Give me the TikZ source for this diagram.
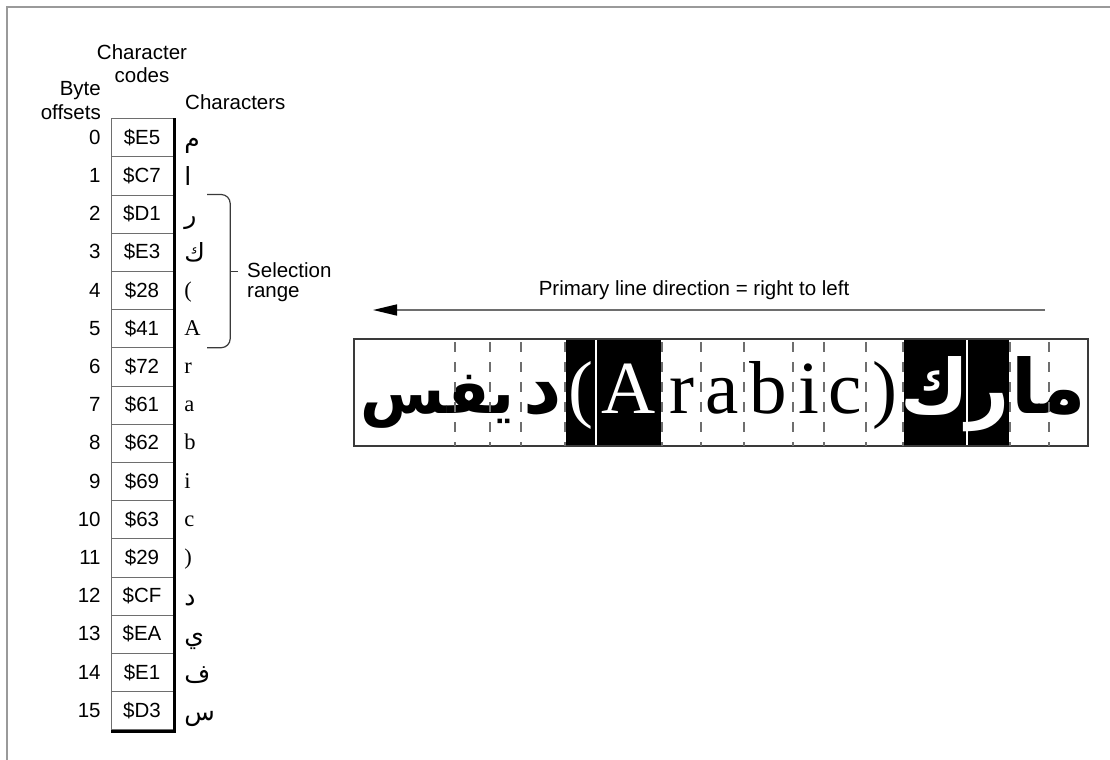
\documentclass[tikz,border=0pt]{standalone}
\usepackage{fontspec}
\setmainfont{Liberation Sans}
\newfontfamily\serifch{Liberation Serif}
\newfontfamily\arab[Script=Arabic]{DejaVu Sans}
\TeXXeTstate=1
\usetikzlibrary{arrows.meta, positioning}
\definecolor{frame}{HTML}{9A9A9A}
\definecolor{rule}{HTML}{6E6E6E}
\definecolor{inkdark}{HTML}{3A3A3A}

\begin{document}
\begin{tikzpicture}[x=1bp, y=-1bp,
  lbl/.style={font=\fontsize{20.5bp}{23bp}\selectfont, inner sep=0pt},
  cell/.style={draw=rule, minimum width=62bp, minimum height=38.2bp, inner sep=0pt,
               font=\fontsize{20.5bp}{23bp}\selectfont},
  latch/.style={inner sep=0pt, font=\fontsize{22.5bp}{24bp}\selectfont\serifch},
  arabch/.style={inner sep=0pt, yshift=-3bp, font=\fontsize{25bp}{27bp}\selectfont\arab},
  box/.style={minimum height=107bp, inner sep=0pt, outer sep=0pt, text height=58bp,
              text depth=17bp, font=\fontsize{75bp}{80bp}\selectfont\serifch},
  sel/.style={box, fill=black, text=white, draw=white, line width=1.5bp},
  sep/.style={draw=rule, line width=1.1bp, dash pattern=on 10bp off 10bp, dash phase=17bp},
  brk/.style={draw=inkdark, line width=1.2bp, rounded corners=9bp},
  dirarrow/.style={draw=rule, line width=1.6bp, -{Triangle[length=24bp, width=11bp, color=black]}}
]
\useasboundingbox (0,0) rectangle (1110,760);
\draw[frame, line width=1.5bp] (7,760) -- (7,7) -- (1110,7);

% byte offsets, codes and characters
\foreach \i/\code/\sty/\ch in {0/E5/arabch/م, 1/C7/arabch/ا, 2/D1/arabch/ر, 3/E3/arabch/ك,
    4/28/latch/{(}, 5/41/latch/A, 6/72/latch/r, 7/61/latch/a,
    8/62/latch/b, 9/69/latch/i, 10/63/latch/c, 11/29/latch/{)},
    12/CF/arabch/د, 13/EA/arabch/ي, 14/E1/arabch/ف, 15/D3/arabch/س} {
  \node[cell] (code\i) at (142,{137.4+38.2*\i}) {\$\code};
  \node[lbl, left=10bp of code\i.base west, anchor=base east] (off\i) {\i};
  \node[\sty, right=11bp of code\i.base east, anchor=base west] (chr\i) {\ch};
}
\draw[line width=3bp] ([xshift=1.5bp]code0.north east) -- ([xshift=1.5bp,yshift=-1.5bp]code15.south east)
  -- ([yshift=-1.5bp]code15.south west);

\node[lbl, align=center, anchor=base] (codehdr) at (142,83) {Character\\codes};
\node[lbl, align=right, anchor=base east] (offhdr) at (101,119) {Byte\\offsets};
\node[lbl, anchor=base west] (chrhdr) at (185,110) {Characters};

% selection bracket
\draw[brk] ([xshift=34bp]code2.north east) -- ([xshift=57bp]code2.north east)
  -- ([xshift=57bp]code5.south east) -- ([xshift=34bp]code5.south east);
\draw[brk] ([xshift=57bp]code3.south east) -- ([xshift=65bp]code3.south east);
\node[lbl, align=left, anchor=base west] (selrng) at (247,297) {Selection\\[-3bp]range};

% line direction
\coordinate (dirstart) at (1045,310);
\coordinate (dirend) at (373,310);
\draw[dirarrow] (dirstart) -- (dirend);
\node[lbl, anchor=base] (dirlbl) at (694,295) {Primary line direction = right to left};

% display strip
\node[box, minimum width=167bp] (s1) at (437.5,392.5)
  {\makebox[0pt]{\fontsize{61bp}{70bp}\selectfont\arab\bfseries\beginR يفس\endR}};
\node[box, minimum width=44bp, right=0pt of s1] (s2) {\makebox[0pt]{\arab\bfseries د}};
\node[sel, minimum width=31bp, right=0pt of s2] (s3) {(};
\node[sel, minimum width=66bp, right=0pt of s3] (s4) {A};
\node[box, minimum width=39bp, right=0pt of s4] (s5) {r};
\node[box, minimum width=43bp, right=0pt of s5] (s6) {a};
\node[box, minimum width=49bp, right=0pt of s6] (s7) {b};
\node[box, minimum width=31bp, right=0pt of s7] (s8) {i};
\node[box, minimum width=42bp, right=0pt of s8] (s9) {c};
\node[box, minimum width=37bp, right=0pt of s9] (s10) {)};
\node[sel, minimum width=64bp, right=0pt of s10] (s11) {\makebox[0pt]{\arab\bfseries ك}};
\node[sel, minimum width=43bp, right=0pt of s11] (s12) {\makebox[0pt]{\arab\bfseries ر}};
\node[box, minimum width=78bp, right=0pt of s12] (s13) {\makebox[0pt]{\arab\bfseries\beginR ما\endR}};
\draw[inkdark, line width=1.3bp] (s1.north west) rectangle (s13.south east);

\foreach \n in {s1,s2,s4,s5,s6,s7,s8,s9,s10,s12}
  \draw[sep] (\n.north east) -- (\n.south east);
\draw[sep] ([xshift=-66bp]s1.north east) -- ([xshift=-66bp]s1.south east);
\draw[sep] ([xshift=-31bp]s1.north east) -- ([xshift=-31bp]s1.south east);
\draw[sep] ([xshift=39bp]s13.north west) -- ([xshift=39bp]s13.south west);
\end{tikzpicture}
\end{document}
